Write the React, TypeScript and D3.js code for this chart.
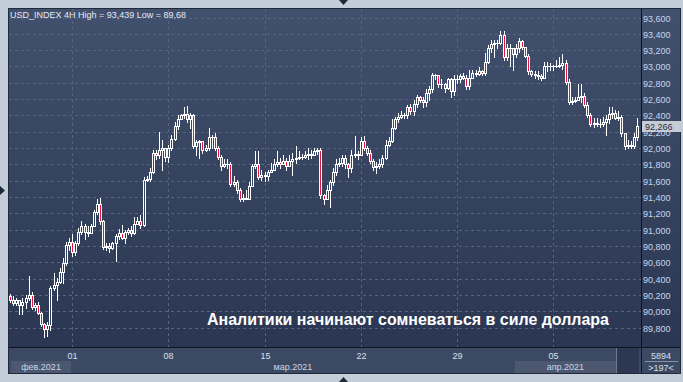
import React from 'react';
import * as d3 from 'd3';

// ---- data (USD_INDEX, 4H candles) ----
const firstOpen = 90.19;
const closes = [
  90.14, 90.10, 90.14, 90.07, 90.11, 90.16, 90.20, 90.05, 90.08, 89.98,
  89.84, 89.78, 89.83, 90.29, 90.32, 90.36, 90.48, 90.59, 90.81, 90.85,
  90.73, 90.84, 90.97, 91.05, 90.97, 90.96, 91.05, 91.21, 91.32, 91.10,
  90.79, 90.80, 90.78, 90.83, 90.92, 90.96, 90.90, 90.97, 91.00, 90.96,
  91.07, 91.11, 91.06, 91.61, 91.62, 91.71, 91.94, 91.92, 91.98, 92.00,
  91.89, 92.00, 92.11, 92.27, 92.36, 92.40, 92.42, 92.35, 92.40, 92.03,
  92.07, 92.08, 91.97, 92.00, 92.13, 92.13, 92.00, 91.89, 91.78, 91.80,
  91.81, 91.56, 91.58, 91.48, 91.38, 91.39, 91.38, 91.54, 91.78, 91.80,
  91.65, 91.67, 91.66, 91.71, 91.73, 91.81, 91.83, 91.80, 91.84, 91.78,
  91.84, 91.86, 91.88, 91.89, 91.89, 91.92, 91.93, 91.92, 91.96, 91.98,
  91.42, 91.38, 91.49, 91.58, 91.71, 91.80, 91.82, 91.88, 91.80, 91.75,
  91.92, 91.93, 91.91, 92.09, 92.00, 91.94, 91.84, 91.77, 91.78, 91.81,
  91.88, 92.04, 92.09, 92.25, 92.35, 92.38, 92.41, 92.40, 92.50, 92.45,
  92.54, 92.62, 92.59, 92.56, 92.68, 92.72, 92.90, 92.89, 92.78, 92.79,
  92.74, 92.84, 92.70, 92.84, 92.84, 92.88, 92.86, 92.76, 92.86, 92.92,
  92.91, 92.94, 92.92, 93.06, 93.22, 93.28, 93.29, 93.29, 93.38, 93.12,
  93.23, 93.23, 93.15, 93.23, 93.31, 93.24, 93.13, 92.94, 92.91, 92.90,
  92.88, 92.86, 93.01, 93.00, 93.00, 93.00, 93.01, 93.02, 93.04, 92.81,
  92.57, 92.58, 92.59, 92.63, 92.64, 92.53, 92.41, 92.30, 92.31, 92.30,
  92.29, 92.32, 92.35, 92.42, 92.43, 92.37, 92.38, 92.18, 92.03, 92.04,
  92.03, 92.14, 92.266,
];
const highs = [
  90.21, 90.18, 90.16, 90.14, 90.16, 90.20, 90.43, 90.24, 90.10, 90.11,
  89.99, 89.86, 89.87, 90.31, 90.47, 90.41, 90.53, 90.65, 90.85, 90.90,
  90.94, 90.86, 91.02, 91.10, 91.07, 91.05, 91.07, 91.24, 91.37, 91.39,
  91.12, 90.83, 90.84, 90.85, 90.95, 91.01, 91.06, 91.00, 91.02, 91.04,
  91.15, 91.15, 91.18, 91.64, 91.66, 91.76, 91.98, 91.98, 92.20, 92.10,
  91.96, 92.04, 92.16, 92.32, 92.41, 92.42, 92.50, 92.51, 92.43, 92.42,
  92.10, 92.10, 92.09, 92.04, 92.25, 92.16, 92.19, 92.02, 91.92, 91.86,
  91.86, 91.83, 91.66, 91.61, 91.51, 91.44, 91.49, 91.58, 91.81, 91.96,
  91.96, 91.73, 91.71, 91.73, 91.82, 91.86, 91.96, 91.88, 91.91, 91.88,
  91.92, 91.94, 92.02, 91.96, 91.93, 91.96, 92.00, 91.98, 92.00, 92.00,
  92.00, 91.44, 91.55, 91.61, 91.76, 91.86, 91.88, 91.92, 91.92, 91.82,
  91.98, 92.15, 91.96, 92.13, 92.15, 92.03, 91.97, 91.86, 91.83, 91.86,
  91.92, 92.10, 92.13, 92.35, 92.38, 92.43, 92.45, 92.43, 92.53, 92.54,
  92.59, 92.65, 92.64, 92.63, 92.72, 92.76, 92.92, 92.91, 92.90, 92.84,
  92.80, 92.86, 92.86, 92.90, 92.89, 92.91, 92.92, 92.89, 92.96, 92.96,
  92.96, 92.99, 92.96, 93.17, 93.26, 93.33, 93.33, 93.33, 93.44, 93.44,
  93.27, 93.28, 93.23, 93.27, 93.35, 93.33, 93.23, 93.15, 92.96, 92.95,
  92.94, 92.91, 93.05, 93.06, 93.04, 93.02, 93.08, 93.11, 93.15, 93.08,
  92.84, 92.62, 92.63, 92.78, 92.79, 92.68, 92.57, 92.43, 92.37, 92.37,
  92.35, 92.38, 92.41, 92.50, 92.50, 92.47, 92.45, 92.41, 92.16, 92.10,
  92.09, 92.19, 92.37,
];
const lows = [
  90.11, 90.08, 90.07, 89.97, 89.97, 90.04, 90.14, 90.03, 90.02, 89.96,
  89.82, 89.68, 89.69, 89.77, 90.26, 90.14, 90.34, 90.35, 90.57, 90.75,
  90.68, 90.69, 90.81, 90.95, 90.88, 90.92, 90.97, 91.05, 91.19, 91.07,
  90.76, 90.75, 90.73, 90.76, 90.61, 90.88, 90.88, 90.84, 90.95, 90.92,
  90.94, 91.07, 91.02, 91.05, 91.59, 91.59, 91.69, 91.86, 91.88, 91.73,
  91.84, 91.83, 91.98, 92.10, 92.23, 92.35, 92.37, 92.32, 92.25, 92.00,
  91.92, 91.88, 91.94, 91.96, 91.98, 92.00, 91.98, 91.86, 91.73, 91.77,
  91.76, 91.54, 91.54, 91.45, 91.35, 91.35, 91.37, 91.37, 91.53, 91.76,
  91.62, 91.61, 91.59, 91.61, 91.70, 91.75, 91.78, 91.76, 91.80, 91.73,
  91.82, 91.67, 91.82, 91.86, 91.86, 91.88, 91.86, 91.88, 91.91, 91.93,
  91.39, 91.31, 91.37, 91.28, 91.55, 91.67, 91.78, 91.78, 91.76, 91.65,
  91.71, 91.89, 91.86, 92.04, 91.98, 91.91, 91.82, 91.73, 91.69, 91.76,
  91.77, 91.86, 92.03, 92.07, 92.23, 92.32, 92.37, 92.37, 92.37, 92.42,
  92.40, 92.50, 92.56, 92.50, 92.51, 92.59, 92.69, 92.84, 92.75, 92.74,
  92.69, 92.72, 92.63, 92.65, 92.80, 92.81, 92.84, 92.72, 92.72, 92.89,
  92.88, 92.90, 92.89, 92.90, 93.04, 93.18, 93.12, 93.23, 93.28, 93.08,
  93.08, 93.01, 92.96, 93.11, 93.18, 93.21, 93.11, 92.91, 92.88, 92.86,
  92.84, 92.83, 92.86, 92.94, 92.96, 92.96, 92.99, 92.99, 92.97, 92.79,
  92.54, 92.54, 92.56, 92.59, 92.56, 92.50, 92.38, 92.27, 92.26, 92.27,
  92.26, 92.27, 92.16, 92.31, 92.37, 92.35, 92.34, 92.15, 91.99, 92.00,
  92.00, 92.00, 92.10,
];

const priceTicks = [
  89.8, 90.0, 90.2, 90.4, 90.6, 90.8, 91.0, 91.2, 91.4, 91.6,
  91.8, 92.0, 92.2, 92.4, 92.6, 92.8, 93.0, 93.2, 93.4, 93.6,
];
const dayLabels = ['01', '08', '15', '22', '29', '05'];
const dayIndex = [20, 51, 82, 113, 144, 175];
const monthLabels = ['фев.2021', 'мар.2021', 'апр.2021'];
const monthStart = [0, 20, 163];
const lastPrice = 92.266;
const title = 'USD_INDEX 4H High = 93,439 Low = 89,68';
const caption = 'Аналитики начинают сомневаться в силе доллара';
const barsCount = '5894';
const visibleCount = '>197<';

const FONT = "'Liberation Sans', Arial, sans-serif";

export default function App() {
  const W = 683;
  const H = 382;
  const n = closes.length;
  const opens = closes.map((c, i) => (i === 0 ? firstOpen : closes[i - 1]));

  const x = d3.scaleBand<number>().domain(d3.range(n)).range([9, 639]).padding(0);
  const y = d3.scaleLinear().domain([89.8, 93.6]).range([327.5, 17.5]);
  const col = (i: number) => Math.floor((x(i) as number) + x.bandwidth() / 2);
  const fmt = (v: number) => d3.format('.3f')(v).replace('.', ',');

  const plotL = 8, plotR = 641, plotT = 8, plotB = 347;
  const panelR = 681, panelB = 374;

  const monthEnds = monthStart.map((s, k) => (k < monthStart.length - 1 ? (x(monthStart[k + 1]) as number) : 616));

  return (
    <svg width={W} height={H} style={{ position: 'absolute', left: 0, top: 0, display: 'block' }}
      fontFamily={FONT}>
      <defs>
        <linearGradient id="bg" gradientUnits="userSpaceOnUse" x1="0" y1={plotT} x2="0" y2={plotB}>
          <stop offset="0" stopColor="#41506d" />
          <stop offset="1" stopColor="#2b3752" />
        </linearGradient>
        <clipPath id="plotClip">
          <rect x={plotL + 1} y={plotT + 1} width={plotR - plotL - 1} height={plotB - plotT - 1} />
        </clipPath>
      </defs>
      {/* outer frame */}
      <rect x={0} y={0} width={W} height={H} fill="#c3cdd9" />
      <path d="M339,0 L348,0 L343.5,5 Z" fill="#1d2a3c" />
      <path d="M339,382 L348,382 L343.5,377 Z" fill="#1d2a3c" />
      <path d="M0,186 L0,195 L5,190.5 Z" fill="#1d2a3c" />

      {/* panel */}
      <rect x={plotL} y={plotT} width={panelR - plotL} height={plotB - plotT} fill="url(#bg)" />
      <rect x={plotL} y={plotB} width={panelR - plotL} height={panelB - plotB} fill="#3c4963" />

      {/* month boxes */}
      {monthLabels.map((m, k) => {
        const x0 = k === 0 ? (x(monthStart[k]) as number) + 2 : (x(monthStart[k]) as number);
        const x1 = monthEnds[k];
        const shaded = k % 2 === 0;
        return (
          <g key={m}>
            {shaded && <rect x={x0} y={361} width={x1 - x0} height={12} fill="#4b5870" />}
            <text x={(x0 + x1) / 2} y={369.5} textAnchor="middle" fontSize={9} fill="#c9d4e6">{m}</text>
          </g>
        );
      })}
      <rect x={617} y={348} width={22} height={25} fill="#2c3852" />
      <rect x={616} y={348} width={1} height={25} fill="#6f7a8c" />

      {/* grid */}
      <g shapeRendering="crispEdges" stroke="#56647f" strokeDasharray="3,3" strokeWidth={1}>
        {priceTicks.map((t) => {
          const yy = Math.round(y(t)) + 0.5;
          return <line key={t} x1={plotL + 1} x2={plotR} y1={yy} y2={yy} />;
        })}
        {dayIndex.map((i) => {
          const xx = col(i) + 0.5;
          return <line key={i} x1={xx} x2={xx} y1={plotT + 1} y2={plotB} />;
        })}
      </g>

      {/* candles */}
      <g clipPath="url(#plotClip)" shapeRendering="crispEdges">
        {closes.map((c, i) => {
          const o = opens[i];
          const hi = Math.max(highs[i], o, c);
          const lo = Math.min(lows[i], o, c);
          const cx = col(i);
          const yh = Math.round(y(hi));
          const yl = Math.round(y(lo));
          const top = Math.round(y(Math.max(o, c)));
          const bot = Math.round(y(Math.min(o, c)));
          const bear = c < o;
          return (
            <g key={i}>
              <rect x={cx} y={yh} width={1} height={yl - yh + 1} fill="#ffffff" />
              {bot - top >= 1 ? (
                <rect x={cx - 0.5} y={top + 0.5} width={2} height={bot - top}
                  fill={bear ? '#e3163d' : 'url(#bg)'} stroke="#ffffff" strokeWidth={1} />
              ) : (
                <rect x={cx - 1} y={top} width={3} height={1} fill="#ffffff" />
              )}
            </g>
          );
        })}
      </g>

      {/* title */}
      <text x={10} y={17.5} fontSize={9} fill="#e4e9f2">{title}</text>

      {/* caption */}
      <text x={207} y={325} fontSize={17} fontWeight="bold" fill="#ffffff"
        textLength={402} lengthAdjust="spacingAndGlyphs">{caption}</text>

      {/* axes lines */}
      <g shapeRendering="crispEdges">
        <line x1={plotR + 0.5} x2={plotR + 0.5} y1={plotT} y2={panelB} stroke="#0d1320" />
        <line x1={plotL} x2={panelR} y1={plotB + 0.5} y2={plotB + 0.5} stroke="#0d1320" />
        <rect x={plotL + 0.5} y={plotT + 0.5} width={panelR - plotL - 1} height={panelB - plotT - 1}
          fill="none" stroke="#202a3b" />
      </g>

      {/* price axis labels */}
      {priceTicks.map((t) => (
        <text key={t} x={643} y={Math.round(y(t)) + 3.5} fontSize={9} fill="#c8d6ee">{fmt(t)}</text>
      ))}
      {/* last price marker */}
      <g>
        <path d={`M642,${Math.round(y(lastPrice)) - 5} L681,${Math.round(y(lastPrice)) - 5} L681,${Math.round(y(lastPrice)) + 6} L642,${Math.round(y(lastPrice)) + 6} Z`}
          fill="#c7ccd4" />
        <text x={645} y={Math.round(y(lastPrice)) + 3.5} fontSize={9} fill="#1c2c47">{fmt(lastPrice)}</text>
      </g>

      {/* date labels */}
      {dayIndex.map((i, k) => (
        <text key={i} x={col(i) + 0.5} y={358.5} textAnchor="middle" fontSize={9} fill="#d6e0ef">{dayLabels[k]}</text>
      ))}

      {/* bottom-right counters */}
      <text x={661} y={358.5} textAnchor="middle" fontSize={9} fill="#d6e0ef">{barsCount}</text>
      <line x1={645} x2={678} y1={361.5} y2={361.5} stroke="#8792a5" shapeRendering="crispEdges" />
      <text x={661} y={370.5} textAnchor="middle" fontSize={9} fill="#d6e0ef">{visibleCount}</text>
    </svg>
  );
}
